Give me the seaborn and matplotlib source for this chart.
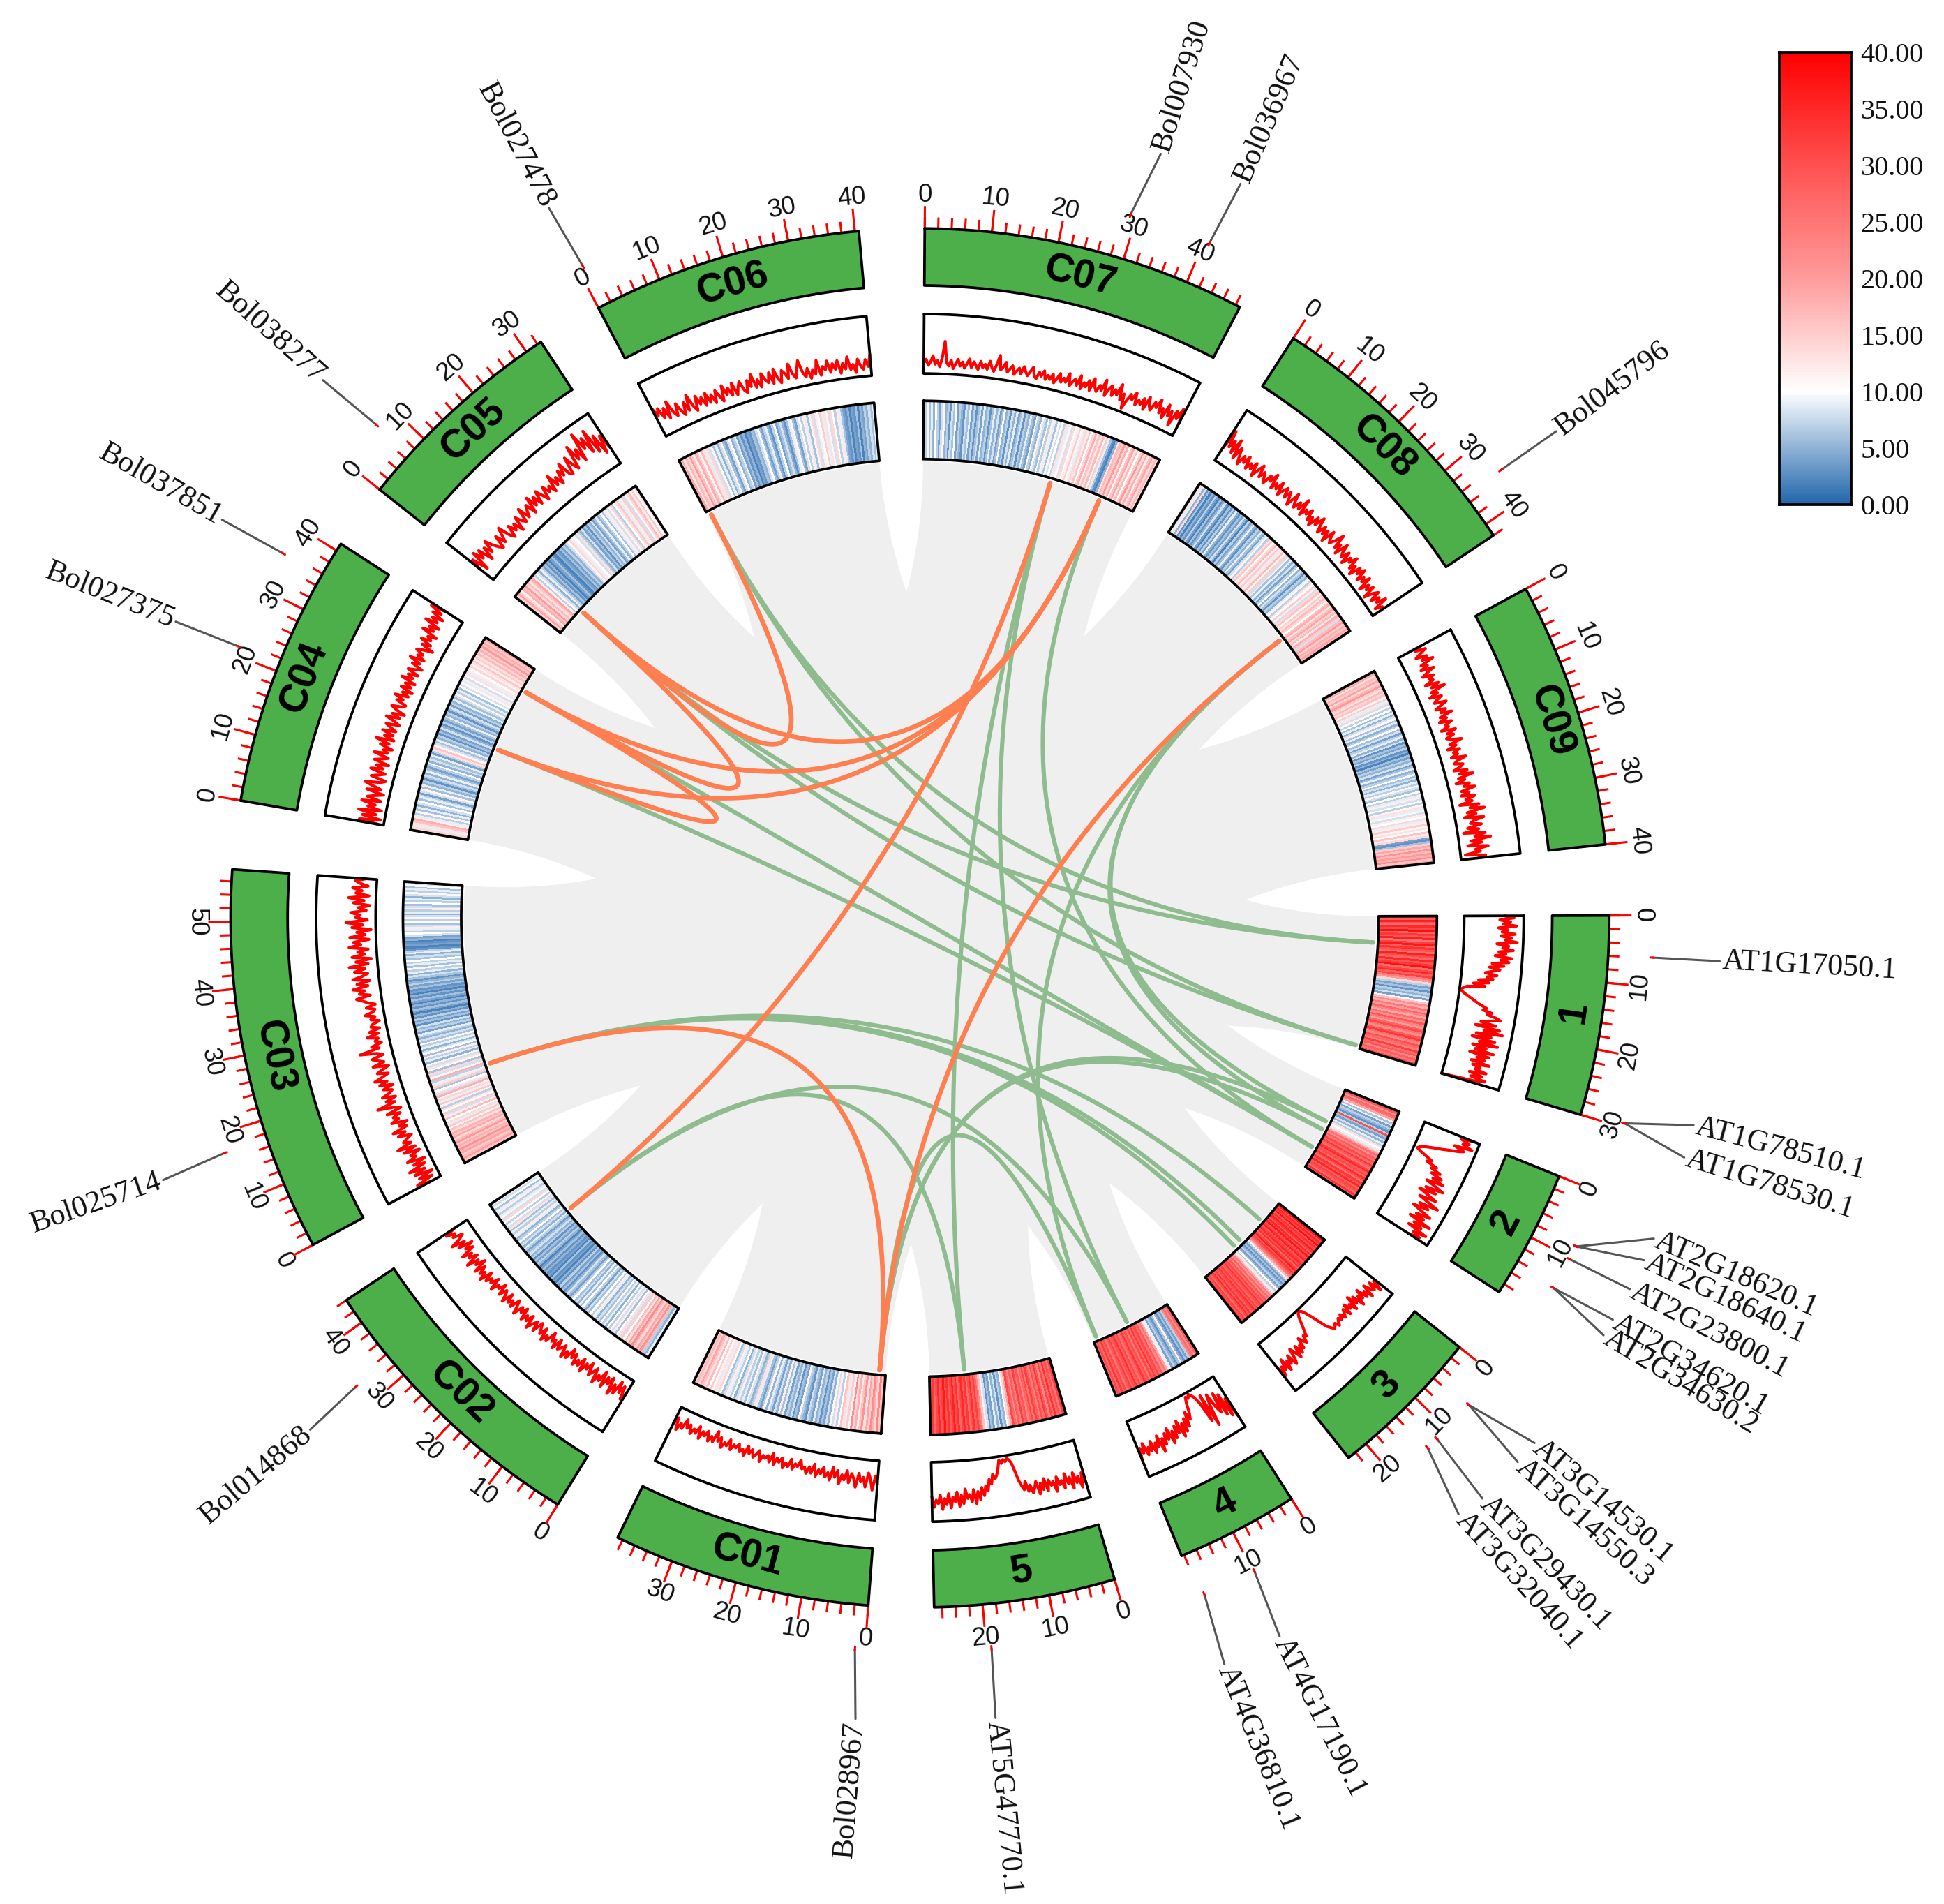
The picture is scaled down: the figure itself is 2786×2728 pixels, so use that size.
import numpy as np
import matplotlib
matplotlib.use("Agg")
import matplotlib.pyplot as plt
import seaborn as sns

sns.set_theme(style="white")
plt.rcParams["font.family"] = ["Liberation Sans", "DejaVu Sans"]

# -------------------------------
# Data
# -------------------------------

sector_names = ["C07", "C08", "C09", "1", "2", "3", "4", "5",
                "C01", "C02", "C03", "C04", "C05", "C06"]
sector_lengths = [48.7, 42, 40, 30, 19.4, 23.3, 18.4, 27.2,
                  38.8, 44, 57.8, 41.2, 32.6, 40.6]

heat_C07 = [9,7,11,6,9,5,10,7,4,8,11,5,7,3,8,6,10,4,7,5,3,8,6,9,4,7,3,6,8,4,9,5,7,3,6,9,5,8,4,6,10,5,7,3,8,5,9,4,6,8,3,7,5,9,6,4,10,7,5,11,8,6,10,7,12,9,6,11,8,10,7,13,9,11,8,14,10,12,15,11,9,14,12,16,10,14,18,12,16,13,17,11,15,9,6,3,2,5,13,17,15,20,14,18,11,16,19,13,17,10,15,20,14,18,12,16,19,14,17,13]
heat_C08 = [7,13,9,5,14,3,6,2,5,3,7,4,2,6,3,5,8,4,2,6,3,7,4,9,5,3,6,4,8,5,2,7,4,6,9,5,3,7,5,9,6,4,8,11,7,13,16,10,14,17,12,15,9,13,17,11,15,8,12,6,9,5,8,4,7,10,5,8,6,3,7,5,9,11,7,13,10,15,12,8,14,16,11,15,13,17,14,10,16,18,13,16,19,14,17,12,18,15,8,17,20,15,18,16,19,17]
heat_C09 = [15,18,13,17,15,19,14,17,20,15,13,17,14,16,11,15,9,13,8,11,7,10,6,9,5,8,11,6,9,5,7,10,6,8,4,7,9,5,8,3,6,4,7,3,5,2,6,4,7,5,8,4,6,9,5,7,10,6,8,5,9,7,11,8,6,10,7,9,12,8,10,7,11,13,9,11,8,12,10,14,9,12,15,11,13,10,16,12,14,4,3,6,15,19,16,21,17,20,18,22,16,19]
heat_1 = [33,28,36,30,26,35,31,38,27,33,29,36,25,32,37,28,34,30,26,36,31,27,35,29,33,38,26,31,35,28,32,24,20,14,7,4,6,3,7,5,8,4,11,16,22,18,25,20,27,23,19,26,22,29,24,20,27,31,25,22,29,33,26,23,30,27,24,32,26,29,23,28,25,31]
heat_2 = [24,29,21,27,25,19,12,6,9,4,7,5,3,7,30,6,4,8,5,9,7,13,10,9,15,20,26,22,28,25,31,27,33,29,26,32,35,29,31,27,34,30,26,33,29,35,28,32,30,27,34,29]
heat_3 = [33,37,30,35,32,38,29,34,31,36,33,28,35,31,37,30,33,36,29,32,35,30,34,27,32,36,29,33,30,26,23,17,11,7,4,6,3,5,7,4,6,10,7,13,9,18,24,21,27,23,29,26,31,28,33,30,27,32,29,34,31,28,33,29,35,31,27,32,30,34]
heat_4 = [24,28,22,26,23,7,4,6,3,5,12,6,3,5,7,4,9,12,19,25,22,29,26,31,28,33,27,31,25,30,28,33,29,26,31,28,34,30,27,32,29,25,31,28,33,27,31,26]
heat_5 = [28,32,25,30,27,34,26,31,23,29,33,26,30,24,28,32,25,31,27,23,29,26,32,24,28,22,27,31,19,14,10,5,7,3,8,5,9,4,6,3,8,12,16,22,27,32,28,34,30,26,33,29,35,31,27,34,30,36,32,28,34,30,37,32,29,35,31,27,33,30]
heat_C01 = [20,16,23,14,18,22,15,19,13,21,16,12,18,14,22,11,15,9,13,16,10,7,12,8,11,5,8,4,6,3,7,5,9,4,6,8,3,5,7,11,4,6,3,8,5,7,4,9,6,12,5,8,4,7,9,5,11,7,4,6,9,13,7,5,8,11,6,9,7,12,8,5,10,7,9,12,8,6,10,14,9,13,11,15,10,17,13,16,19,14,17,15]
heat_C02 = [6,9,5,7,17,21,16,19,14,18,22,15,19,13,17,10,15,8,13,10,6,12,8,11,7,10,5,9,7,11,6,8,5,9,12,7,10,6,8,4,7,10,6,9,5,8,6,10,7,4,6,8,5,3,6,4,7,3,5,2,4,3,6,2,4,3,5,3,6,4,2,5,7,4,6,3,7,5,8,6,4,7,9,5,8,6,10,7,5,9,12,7,9,6,13,8,11,7,10,14,8,11,9,7,12,9,6,10,8,11]
heat_C03 = [18,16,20,17,15,19,17,21,16,18,15,20,17,14,19,16,18,13,16,11,15,9,14,10,17,12,8,15,10,13,7,12,16,9,14,11,18,8,13,10,6,15,9,12,7,18,11,8,14,6,10,13,8,11,5,9,7,12,6,10,8,5,9,7,11,6,8,5,7,9,4,7,5,8,3,6,4,7,3,5,2,4,6,3,5,2,4,6,3,5,2,4,3,6,4,7,5,3,6,8,5,9,7,11,6,9,7,10,6,8,5,9,7,3,2,4,3,2,5,4,8,10,7,9,12,8,6,10,7,11,8,5,9,7,12,8,6,10,7,9,5,8,11,7,9,6,10,8]
heat_C04 = [11,14,9,13,16,18,12,9,7,11,6,9,5,8,10,6,9,7,4,8,11,6,9,5,7,3,6,8,5,9,6,4,7,10,5,8,6,9,4,7,13,16,11,8,6,9,5,7,3,6,4,8,5,3,7,4,6,9,5,7,3,6,8,4,7,5,9,6,8,11,7,9,6,10,8,11,9,12,8,10,13,9,12,10,14,11,13,16,12,15,13,17,14,18,15,20,16,18,15,19]
heat_C05 = [17,14,19,15,12,18,16,20,14,17,13,16,19,12,7,11,8,5,9,7,4,6,3,5,2,4,6,3,2,5,4,3,6,4,7,5,8,11,14,9,12,10,8,13,7,5,8,4,6,3,7,5,8,4,6,9,5,7,10,6,9,12,8,11,14,7,10,13,16,9,12,15,8,11,14,17,12,15,10,13]
heat_C06 = [15,19,13,17,14,20,16,12,18,15,11,17,13,9,14,8,11,6,9,5,8,11,6,4,8,10,5,7,9,4,6,3,5,2,4,3,6,5,8,10,6,4,7,9,5,3,7,10,4,6,8,5,3,6,9,11,6,4,8,10,7,12,9,6,11,14,8,12,10,15,9,13,11,8,14,10,7,12,9,6,4,3,5,2,4,3,6,2,5,4,7,5,8,6,9]

line_C07 = [18,24,14,20,30,16,22,12,26,55,20,14,24,10,18,26,15,22,12,20,28,14,24,18,12,26,16,22,14,28,18,12,24,40,16,22,30,14,20,26,12,18,24,15,28,20,14,22,30,16,12,24,18,28,14,22,16,26,12,20,30,16,24,18,34,14,22,28,18,36,14,26,20,32,16,38,24,18,30,22,42,16,28,36,20,32,24,44,18,30,6,22,34,26,40,20,30,24,36,18,42,28,22,38,30,46,24,34,18,44,26,36,12,40,28,48,22]
line_C08 = [22,60,32,46,26,52,20,42,28,16,34,24,38,18,30,22,36,14,28,40,20,32,24,16,34,26,42,18,30,22,38,16,28,36,20,34,24,14,40,26,18,32,22,44,16,30,24,36,18,28,14,34,22,40,26,16,32,20,30,12,36,24,18,28,44,20,30,14,38,24,18,32,12,28,22,36,16,26,10,30,20,34,14,26,18,32,8,24,16,28,6,22,30,12,26,18,34,10,22,16]
line_C09 = [42,30,48,36,26,44,34,52,28,38,24,46,32,22,40,30,36,20,42,28,50,24,34,18,38,28,22,42,30,20,36,26,44,22,32,18,38,26,30,16,40,24,34,20,28,44,22,32,16,36,24,30,18,42,26,20,34,28,16,38,24,46,20,30,14,36,26,44,20,32,18,40,24,34,12,44,28,52,22,36,16,48,30,24,42,18,36,10,46,28,54,20,38,14,48,26,34,8,42,30]
line_1 = [68,84,60,78,66,88,58,74,64,86,62,80,70,90,56,76,66,84,60,72,54,82,64,78,50,70,46,64,52,40,60,44,54,30,48,22,42,12,6,2,5,10,16,22,28,34,42,50,44,60,52,68,76,58,44,70,36,78,52,84,40,66,34,74,48,80,38,62,44,76,36,70,50,64,42,74,46,60,52,72,44,66,48,74,54,0]
line_2 = [90,68,84,74,92,62,80,70,56,44,30,18,10,6,14,26,38,30,50,42,60,46,66,52,72,44,62,78,48,68,40,58,74,46,64,84,52,70,44,62,80,56,72,48,88,60,76,54,90,68,82,62]
line_3 = [74,62,80,58,72,66,54,76,60,70,50,66,58,74,52,64,46,70,56,62,50,68,54,60,66,56,64,58,62,68,60,64,66,60,54,40,26,14,6,3,5,10,18,26,34,42,38,50,44,36,54,46,58,42,62,50,40,58,66,46,60,52,68,44,62,54,70,50]
line_4 = [78,42,72,30,66,24,58,46,20,36,74,16,62,28,14,8,4,10,6,16,32,42,28,52,36,58,42,64,34,54,40,60,46,66,38,56,44,62,50,72,42,60,52,68,46,62,54,66,44,60,50,70]
line_5 = [74,56,80,60,70,52,78,58,68,50,74,60,66,52,76,58,64,54,72,50,68,56,74,52,62,70,56,66,48,62,54,44,28,14,8,5,10,6,12,6,20,30,36,28,44,36,54,46,62,48,68,54,74,50,70,58,64,48,72,58,76,52,68,60,78,54,72,62,80,56,70,64,76,58]
line_C01 = [40,26,50,32,22,46,30,38,24,48,34,26,42,22,38,30,46,24,36,20,42,30,38,22,34,28,40,20,36,26,38,28,32,18,30,26,36,20,34,28,38,22,30,24,36,18,34,24,30,26,38,20,28,34,22,30,18,36,26,32,20,28,24,34,18,30,26,36,20,28,12,32,24,34,18,28,22,36,16,30,24,34,20,28,14,32,24,38,18,30]
line_C02 = [24,38,16,30,12,36,22,42,14,28,18,38,12,32,24,40,16,26,34,14,28,20,38,16,32,24,36,18,28,14,34,24,38,18,26,32,16,36,22,28,14,34,26,38,18,32,24,16,36,20,28,40,18,32,24,36,16,28,20,38,26,16,34,24,32,18,38,26,20,34,16,28,24,38,18,32,26,36,20,42,28,36,22,40,16,32,24,44,20,34,26,42,18,30,14,38,24,46,28,20,36,30,44,26]
line_C03 = [20,42,12,34,8,38,18,44,14,32,10,40,22,30,12,38,16,46,20,32,24,14,36,22,42,16,28,12,38,24,32,18,40,14,26,52,20,34,16,38,24,18,32,14,36,22,42,28,16,34,24,12,38,18,28,36,16,26,54,20,32,14,24,18,36,16,30,12,26,22,10,24,16,32,18,14,28,12,24,32,42,18,36,26,46,20,38,16,44,28,18,40,22,48,16,36,10,42,20,32,14,46,26,38,12,44,18,32,8,40,22,50,14,34,26,42,16,30,10,38,20,46,12,34,24,40,14,28,36,18]
line_C04 = [10,42,6,38,16,46,8,32,20,44,12,36,24,10,40,16,32,46,20,12,38,26,16,42,22,34,14,40,28,18,44,22,30,16,38,24,48,18,36,22,42,20,30,40,18,28,44,22,36,16,32,42,24,20,38,28,44,22,34,18,40,24,36,20,46,28,38,22,42,30,20,40,28,48,24,38,30,44,34,18,40,26,46,30,38,24,52,34,44,28,56,36,48,30,52,38,60,32]
line_C05 = [30,48,20,54,36,50,24,46,32,52,38,28,22,44,26,38,50,28,20,40,26,36,18,42,30,24,48,26,36,44,24,52,32,46,28,50,38,26,48,34,42,28,56,34,46,30,52,40,60,36,32,62,44,34,74,46,62,38,86,54,72,42,80,36,64,28,58,32]
line_C06 = [54,36,48,28,44,24,52,30,22,42,26,18,38,22,48,26,16,40,24,34,18,38,20,32,16,36,24,14,40,22,32,18,38,16,28,36,20,14,34,22,42,18,30,16,38,26,20,36,16,40,22,14,34,28,18,42,24,16,30,44,22,14,28,10,24,16,38,12,26,20,34,14,28,18,32,10,26,16,36,14,22,8,30,18,12,28,16,36]

gene_names = ["AT1G17050.1", "AT1G78510.1", "AT1G78530.1", "AT2G18620.1", "AT2G18640.1",
              "AT2G23800.1", "AT2G34620.1", "AT2G34630.2", "AT3G14530.1", "AT3G14550.3",
              "AT3G29430.1", "AT3G32040.1", "AT4G17190.1", "AT4G36810.1", "AT5G47770.1",
              "Bol028967", "Bol014868", "Bol025714", "Bol027375", "Bol037851",
              "Bol038277", "Bol027478", "Bol007930", "Bol036967", "Bol045796"]
gene_sectors = ["1", "1", "1", "2", "2", "2", "2", "2", "3", "3", "3", "3", "4", "4", "5",
                "C01", "C02", "C03", "C04", "C04", "C05", "C06", "C07", "C07", "C08"]
gene_mb = [5.9, 29.4, 29.4, 8.2, 8.2, 10.2, 14.8, 14.8, 5.5, 5.5, 12, 13.8, 9.8, 17.5, 19.3,
           1.4, 33.2, 17.2, 21.3, 35.7, 6.8, 0.8, 29.1, 40.8, 35]

green_links = [("Bol027478", "AT1G17050.1"), ("Bol038277", "AT1G17050.1"),
               ("Bol027478", "AT1G78510.1"), ("Bol038277", "AT1G78510.1"),
               ("Bol045796", "AT2G18620.1"), ("Bol028967", "AT2G18620.1"),
               ("Bol045796", "AT2G23800.1"), ("Bol028967", "AT2G23800.1"),
               ("Bol036967", "AT2G34620.1"), ("Bol037851", "AT2G34620.1"),
               ("Bol027375", "AT2G34620.1"), ("Bol025714", "AT3G14530.1"),
               ("Bol025714", "AT3G29430.1"), ("Bol025714", "AT3G32040.1"),
               ("Bol007930", "AT4G17190.1"), ("Bol014868", "AT4G17190.1"),
               ("Bol045796", "AT4G36810.1"), ("Bol028967", "AT4G36810.1"),
               ("Bol007930", "AT5G47770.1"), ("Bol014868", "AT5G47770.1")]
orange_links = [("Bol027478", "Bol038277"), ("Bol038277", "Bol036967"),
                ("Bol037851", "Bol036967"), ("Bol037851", "Bol038277"),
                ("Bol027375", "Bol037851"), ("Bol027375", "Bol036967"),
                ("Bol025714", "Bol028967"), ("Bol028967", "Bol045796"),
                ("Bol014868", "Bol007930")]

colorbar_ticks = [0, 5, 10, 15, 20, 25, 30, 35, 40]

heat_values = [heat_C07, heat_C08, heat_C09, heat_1, heat_2, heat_3, heat_4, heat_5,
               heat_C01, heat_C02, heat_C03, heat_C04, heat_C05, heat_C06]
line_values = [line_C07, line_C08, line_C09, line_1, line_2, line_3, line_4, line_5,
               line_C01, line_C02, line_C03, line_C04, line_C05, line_C06]

# -------------------------------
# Layout of the rings
# -------------------------------

W, H = 1568, 1535
CX, CY = 742, 740
RMAX = 700
DEG_PER_MB = 0.5595
sector_start_deg = [0.4, 32.8, 61.5, 89.8, 112, 128.5, 147.4, 163.6,
                    184.3, 211.7, 241.7, 279.8, 308.4, 332.2]
gene_label_deg = [93.1, 105, 107.4, 113.6, 115.3, 117.6, 120.1, 121.4, 130.5, 132.3,
                  135.9, 137.9, 153.4, 157.8, 174.6, 184.6, 230, 250.9, 291.7, 299.7,
                  312, 332.4, 17.5, 23.6, 52.6]
gene_label_r = [648, 648, 648, 648, 648, 648, 648, 648, 654, 654, 654, 650, 650, 652, 650,
                650, 644, 648, 648, 650, 650, 648, 648, 648, 648]

IDEO_IN, IDEO_OUT = 510, 556
LINE_IN, LINE_OUT = 439, 487
HEAT_IN, HEAT_OUT = 370, 417
LINK_R = 366
SPIKE_TIP = 263
SPIKE_CTRL = 312

GREEN = "#4DAF4A"
LINK_GREEN = "#8FBC8F"
LINK_ORANGE = "#FF7F50"
GREY = "#EFEFEF"

heat_cmap = sns.blend_palette(["#2166AC", "#FFFFFF", "#FF9B9B", "#FF5050", "#FF0000"], as_cmap=True)


def sector_theta(i, mb):
    return np.radians(sector_start_deg[i] + np.asarray(mb) * DEG_PER_MB)


def ring_outline(i, r0, r1):
    t = sector_theta(i, np.linspace(0, sector_lengths[i], 80))
    return np.r_[t, t[::-1], t[0]], np.r_[np.full(80, r1), np.full(80, r0), r1]


def upright_rotation(deg):
    return 180 - deg if 90 < deg < 270 else -deg


def to_polar(x, y):
    return np.arctan2(x, y), np.hypot(x, y)


def curve(p0, c, p1, n=60):
    s = np.linspace(0, 1, n)[:, None]
    return (1 - s) ** 2 * p0 + 2 * s * (1 - s) * c + s ** 2 * p1


def cart(theta, r):
    return np.array([r * np.sin(theta), r * np.cos(theta)])


def gene_theta(name):
    g = gene_names.index(name)
    return sector_theta(sector_names.index(gene_sectors[g]), gene_mb[g])


fig = plt.figure(figsize=(27.86, 27.28), dpi=100)
ax = fig.add_axes([(CX - RMAX) / W, (H - CY - RMAX) / H, 2 * RMAX / W, 2 * RMAX / H], projection="polar")
ax.set_theta_zero_location("N")
ax.set_theta_direction(-1)
ax.set_rlim(0, RMAX)
ax.set_autoscale_on(False)
ax.axis("off")

# -------------------------------
# Grey backdrop with white spikes in the gaps
# -------------------------------

circle = np.linspace(0, 2 * np.pi, 720)
ax.fill(circle, np.full(720, LINK_R + 2), color=GREY, lw=0, zorder=1)

for i in range(len(sector_names)):
    j = (i + 1) % len(sector_names)
    a0 = float(sector_theta(i, sector_lengths[i]))
    a1 = float(sector_theta(j, 0)) + (2 * np.pi if j == 0 else 0)
    tip = cart((a0 + a1) / 2, SPIKE_TIP)
    left = curve(cart(a0, LINK_R), cart(a0, SPIKE_CTRL), tip)
    right = curve(tip, cart(a1, SPIKE_CTRL), cart(a1, LINK_R))
    outer = cart(np.linspace(a1, a0, 12), LINK_R + 6).T
    pts = np.vstack([left, right, outer])
    th, rr = to_polar(pts[:, 0], pts[:, 1])
    ax.fill(th, rr, color="white", lw=0, zorder=2)

# -------------------------------
# Links
# -------------------------------

for links, colour, width, z in [(green_links, LINK_GREEN, 4.4, 3), (orange_links, LINK_ORANGE, 4.8, 4)]:
    for a, b in links:
        pts = curve(cart(gene_theta(a), LINK_R), np.zeros(2), cart(gene_theta(b), LINK_R), n=240)
        th, rr = to_polar(pts[:, 0], pts[:, 1])
        ax.plot(th, rr, color=colour, lw=width, solid_capstyle="round", zorder=z)

# -------------------------------
# Tracks
# -------------------------------

for i, name in enumerate(sector_names):
    length = sector_lengths[i]

    # heat track
    edges = sector_theta(i, np.linspace(0, length, len(heat_values[i]) + 1))
    ax.pcolormesh(edges, [HEAT_IN, HEAT_OUT], np.array(heat_values[i], dtype=float)[None, :],
                  cmap=heat_cmap, vmin=0, vmax=40, shading="flat", zorder=5)
    th, rr = ring_outline(i, HEAT_IN, HEAT_OUT)
    ax.plot(th, rr, color="black", lw=2.7, zorder=6)

    # line track
    vals = np.array(line_values[i], dtype=float)
    ax.plot(sector_theta(i, np.linspace(0, length, len(vals))),
            LINE_IN + vals / 100 * (LINE_OUT - LINE_IN), color="#FF0000", lw=3.0, zorder=5)
    th, rr = ring_outline(i, LINE_IN, LINE_OUT)
    ax.plot(th, rr, color="black", lw=2.7, zorder=6)

    # ideogram
    th, rr = ring_outline(i, IDEO_IN, IDEO_OUT)
    ax.fill(th, rr, color=GREEN, lw=0, zorder=5)
    ax.plot(th, rr, color="black", lw=2.7, zorder=6)

    mid = sector_start_deg[i] + length * DEG_PER_MB / 2
    ax.text(np.radians(mid), (IDEO_IN + IDEO_OUT) / 2, name, fontsize=41, fontweight="bold", color="black",
            rotation=upright_rotation(mid), rotation_mode="anchor", ha="center", va="center", zorder=7)

    # ticks, long ones every 10 Mb
    minor = np.arange(0, length + 0.01, 2)
    major = np.arange(0, length + 0.01, 10)
    ax.vlines(sector_theta(i, minor), IDEO_OUT, IDEO_OUT + 9, color="#FF0000", lw=2.2, zorder=4)
    ax.vlines(sector_theta(i, major), IDEO_OUT, IDEO_OUT + 18, color="#FF0000", lw=2.2, zorder=4)
    for mb in major:
        deg = sector_start_deg[i] + mb * DEG_PER_MB
        ax.text(np.radians(deg), IDEO_OUT + 27, str(int(mb)), fontsize=26.5, color="#111111",
                rotation=upright_rotation(deg), rotation_mode="anchor", ha="center", va="center")

# -------------------------------
# Gene labels
# -------------------------------

for name, label_deg, label_r in zip(gene_names, gene_label_deg, gene_label_r):
    t = gene_theta(name)
    lab = np.radians(label_deg)
    ax.plot([t, lab], [592, label_r - 2], color="#555555", lw=2.2, zorder=3)
    ax.plot([t, t], [590, 593], color="#FF0000", lw=2.2, zorder=4)
    if label_deg < 180:
        rot, align = 90 - label_deg, "left"
    else:
        rot, align = 270 - label_deg, "right"
    ax.text(lab, label_r, name, fontsize=31.8, family="Liberation Serif", color="#111111",
            rotation=rot, rotation_mode="anchor", ha=align, va="center")

# -------------------------------
# Colour scale
# -------------------------------

cax = fig.add_axes([1435 / W, (H - 407) / H, 58 / W, 365 / H])
scale = np.linspace(40, 0, 256).reshape(-1, 1)
sns.heatmap(scale, ax=cax, cmap=heat_cmap, vmin=0, vmax=40, cbar=False, xticklabels=False, yticklabels=False)
cax.set_yticks([(40 - v) / 40 * 256 for v in colorbar_ticks])
cax.set_yticklabels(["%.2f" % v for v in colorbar_ticks], fontsize=29, family="Liberation Serif", color="#111111")
cax.yaxis.tick_right()
cax.tick_params(axis="y", direction="in", color="white", length=9, width=2, right=True, left=False, pad=10)
for s in cax.spines.values():
    s.set_visible(True)
    s.set_color("black")
    s.set_linewidth(2.7)

fig.savefig("out.png", dpi=100, facecolor="white")
plt.close(fig)
